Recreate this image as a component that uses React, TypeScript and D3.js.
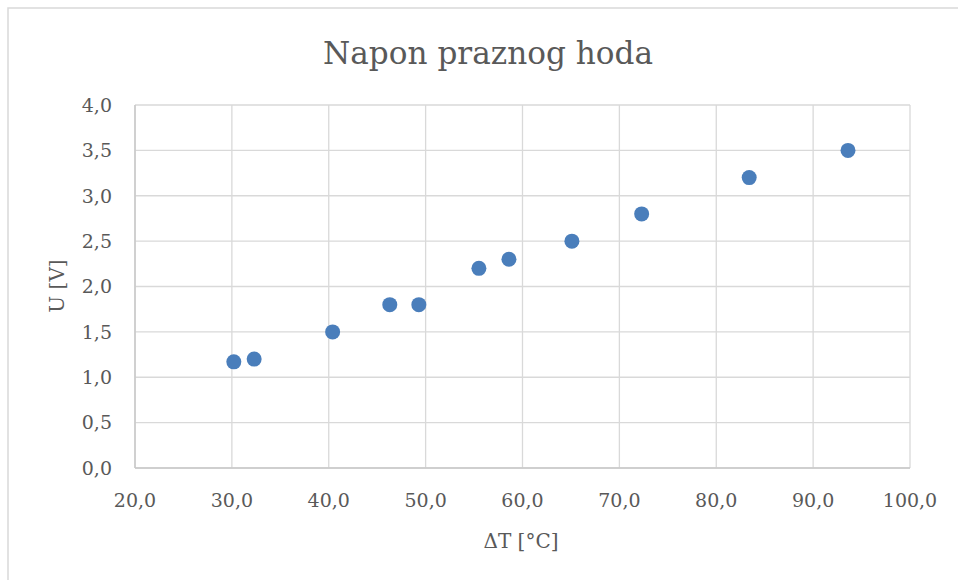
import React from 'react';
import * as d3 from 'd3';

// measured values (ΔT in °C, U in V)
const deltaT = [30.2, 32.3, 40.4, 46.3, 49.3, 55.5, 58.6, 65.1, 72.3, 83.4, 93.6];
const voltage = [1.17, 1.2, 1.5, 1.8, 1.8, 2.2, 2.3, 2.5, 2.8, 3.2, 3.5];
const xTicks = [20, 30, 40, 50, 60, 70, 80, 90, 100];
const yTicks = [0, 0.5, 1, 1.5, 2, 2.5, 3, 3.5, 4];

const W = 958;
const H = 580;
const plot = { left: 135, top: 105, right: 910, bottom: 468 };
const fmt = (v: number) => v.toFixed(1).replace('.', ',');
const font = '"DejaVu Serif", "Liberation Serif", serif';
const textColor = '#595959';

export default function App() {
  const x = d3.scaleLinear().domain([20, 100]).range([plot.left, plot.right]);
  const y = d3.scaleLinear().domain([0, 4]).range([plot.bottom, plot.top]);
  const pts = deltaT.map((t, i) => ({ t, u: voltage[i] }));

  return (
    <svg width={W} height={H} style={{ position: 'absolute', left: 0, top: 0 }} fontFamily={font}>
      <rect x={0} y={0} width={W} height={H} fill="#fff" />
      <rect x={8} y={8} width={W + 10} height={H + 10} fill="none" stroke="#d9d9d9" strokeWidth={1.5} />

      <text x={488} y={64} textAnchor="middle" fontSize={32} fill={textColor}
        textLength={330} lengthAdjust="spacingAndGlyphs">
        Napon praznog hoda
      </text>

      <g stroke="#d9d9d9" strokeWidth={1.3}>
        {xTicks.map(v => (
          <line key={'gx' + v} x1={x(v)} x2={x(v)} y1={plot.top} y2={plot.bottom} />
        ))}
        {yTicks.map(v => (
          <line key={'gy' + v} x1={plot.left} x2={plot.right} y1={y(v)} y2={y(v)} />
        ))}
      </g>
      <line x1={plot.left} x2={plot.left} y1={plot.top} y2={plot.bottom} stroke="#c8c8c8" strokeWidth={1.5} />
      <line x1={plot.left} x2={plot.right} y1={plot.bottom} y2={plot.bottom} stroke="#c8c8c8" strokeWidth={1.5} />

      <g fontSize={19} fill={textColor}>
        {yTicks.map(v => (
          <text key={'ty' + v} x={plot.left - 23} y={y(v)} dy="0.36em" textAnchor="end">
            {fmt(v)}
          </text>
        ))}
        {xTicks.map(v => (
          <text key={'tx' + v} x={x(v)} y={plot.bottom + 39} textAnchor="middle">
            {fmt(v)}
          </text>
        ))}
      </g>

      <text x={521} y={548} textAnchor="middle" fontSize={20} fill={textColor}>
        ΔT [°C]
      </text>
      <text
        transform={`translate(64, 286) rotate(-90)`}
        textAnchor="middle"
        fontSize={20}
        fill={textColor}
      >
        U [V]
      </text>

      <g fill="#4a7ebb">
        {pts.map((p, i) => (
          <circle key={i} cx={x(p.t)} cy={y(p.u)} r={7.5} />
        ))}
      </g>
    </svg>
  );
}
